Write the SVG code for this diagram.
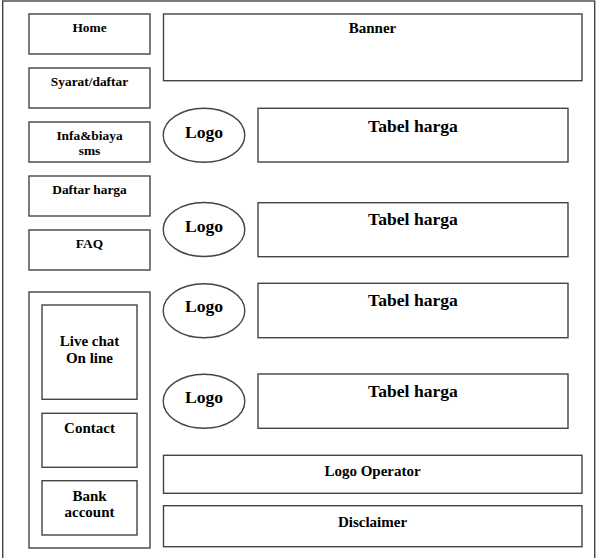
<svg xmlns="http://www.w3.org/2000/svg" width="596" height="558" viewBox="0 0 596 558">
<style>
.b{fill:#fff;stroke:#444;stroke-width:1.4}
.t{font-family:"Liberation Serif",serif;font-weight:bold;fill:#000;text-anchor:middle}
.m{font-size:13.4px}
.l{font-size:15px}
.x{font-size:17.6px}
</style>
<rect x="0" y="0" width="596" height="558" fill="#fff"/>
<g id="frame"><rect class="b" x="2.7" y="1" width="592" height="570"/></g>
<g id="home"><rect class="b" x="29" y="14" width="121" height="40"/><text class="t m" x="89.5" y="32.3">Home</text></g>
<g id="syarat"><rect class="b" x="29" y="68" width="121" height="40"/><text class="t m" x="89.5" y="86">Syarat/daftar</text></g>
<g id="infa"><rect class="b" x="29" y="122" width="121" height="40"/><text class="t m" x="89.5" y="140">Infa&amp;biaya</text><text class="t m" x="89.5" y="155">sms</text></g>
<g id="daftar"><rect class="b" x="29" y="176" width="121" height="40"/><text class="t m" x="89.5" y="194">Daftar harga</text></g>
<g id="faq"><rect class="b" x="29" y="230" width="121" height="40"/><text class="t m" x="89.5" y="248.3">FAQ</text></g>
<g id="sidebar"><rect class="b" x="29" y="292" width="121" height="256"/></g>
<g id="livechat"><rect class="b" x="42" y="305" width="95" height="94.3"/><text class="t l" x="89.5" y="346">Live chat</text><text class="t l" x="89.5" y="363.3">On line</text></g>
<g id="contact"><rect class="b" x="42" y="413.3" width="95" height="54"/><text class="t l" x="89.5" y="433.3">Contact</text></g>
<g id="bank"><rect class="b" x="42" y="480.7" width="95" height="54.3"/><text class="t l" x="89.5" y="500.7">Bank</text><text class="t l" x="89.5" y="517.3">account</text></g>
<g id="banner"><rect class="b" x="163.5" y="14" width="418.5" height="66.7"/><text class="t l" x="372.5" y="33.3">Banner</text></g>
<g id="logo1"><ellipse class="b" cx="204" cy="135.3" rx="40.8" ry="27"/><text class="t x" x="204" y="137.7">Logo</text></g>
<g id="tabel1"><rect class="b" x="258" y="108.3" width="310" height="53.7"/><text class="t x" x="413" y="131.7">Tabel harga</text></g>
<g id="logo2"><ellipse class="b" cx="204" cy="229.5" rx="40.8" ry="27"/><text class="t x" x="204" y="231.7">Logo</text></g>
<g id="tabel2"><rect class="b" x="258" y="202.7" width="310" height="54"/><text class="t x" x="413" y="225">Tabel harga</text></g>
<g id="logo3"><ellipse class="b" cx="204" cy="310.7" rx="40.8" ry="27"/><text class="t x" x="204" y="312.3">Logo</text></g>
<g id="tabel3"><rect class="b" x="258" y="283.3" width="310" height="54.4"/><text class="t x" x="413" y="306">Tabel harga</text></g>
<g id="logo4"><ellipse class="b" cx="204" cy="401.2" rx="40.8" ry="27"/><text class="t x" x="204" y="402.7">Logo</text></g>
<g id="tabel4"><rect class="b" x="258" y="374" width="310" height="54.3"/><text class="t x" x="413" y="396.7">Tabel harga</text></g>
<g id="operator"><rect class="b" x="163.5" y="455.3" width="418.5" height="38"/><text class="t l" x="372.5" y="475.7">Logo Operator</text></g>
<g id="disclaimer"><rect class="b" x="163.5" y="505.7" width="418.5" height="41"/><text class="t l" x="372.5" y="526.7">Disclaimer</text></g>
<g id="connectors"></g>
</svg>
